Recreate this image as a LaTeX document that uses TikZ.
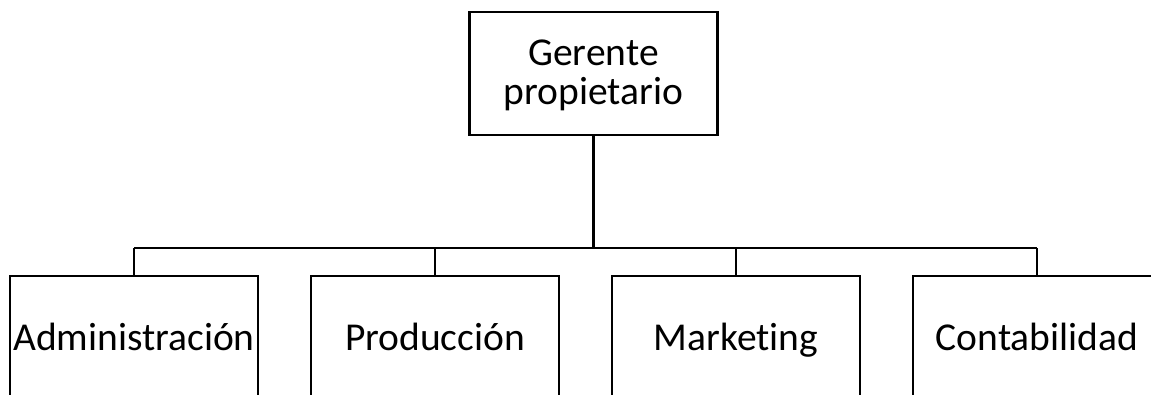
\documentclass[tikz,border=0pt]{standalone}
\usepackage{fontspec}
\setmainfont{Carlito}[Ligatures={NoCommon,NoContextual}]
\begin{document}
\begin{tikzpicture}[x=1pt,y=-1pt,
  box/.style={draw=black,line width=2.2pt,fill=white,minimum width=248pt,minimum height=123pt,inner sep=0pt,align=center,font=\fontsize{39.5}{39.6}\selectfont},
  single/.style={text height=31pt,text depth=6pt},
  double/.style={text height=64pt,text depth=1.6pt},
  conn/.style={draw=black,line width=2.2pt}]
\useasboundingbox (0,0) rectangle (1151,395);
\clip (0,0) rectangle (1151,395);
\node[box,double] (top) at (593.5,73.5) {Gerente\\propietario};
\node[box,single] (a) at (134,337.5) {Administración};
\node[box,single] (b) at (435,337.5) {Producción};
\node[box,single] (c) at (736,337.5) {Marketing};
\node[box,single] (d) at (1037,337.5) {Contabilidad};
\coordinate (bus) at (593.5,248);
\draw[conn] (top.south) -- (bus);
\draw[conn] (a.north |- bus) -- (d.north |- bus);
\foreach \n in {a,b,c,d} \draw[conn] (\n.north) -- (\n.north |- bus);
\end{tikzpicture}
\end{document}
